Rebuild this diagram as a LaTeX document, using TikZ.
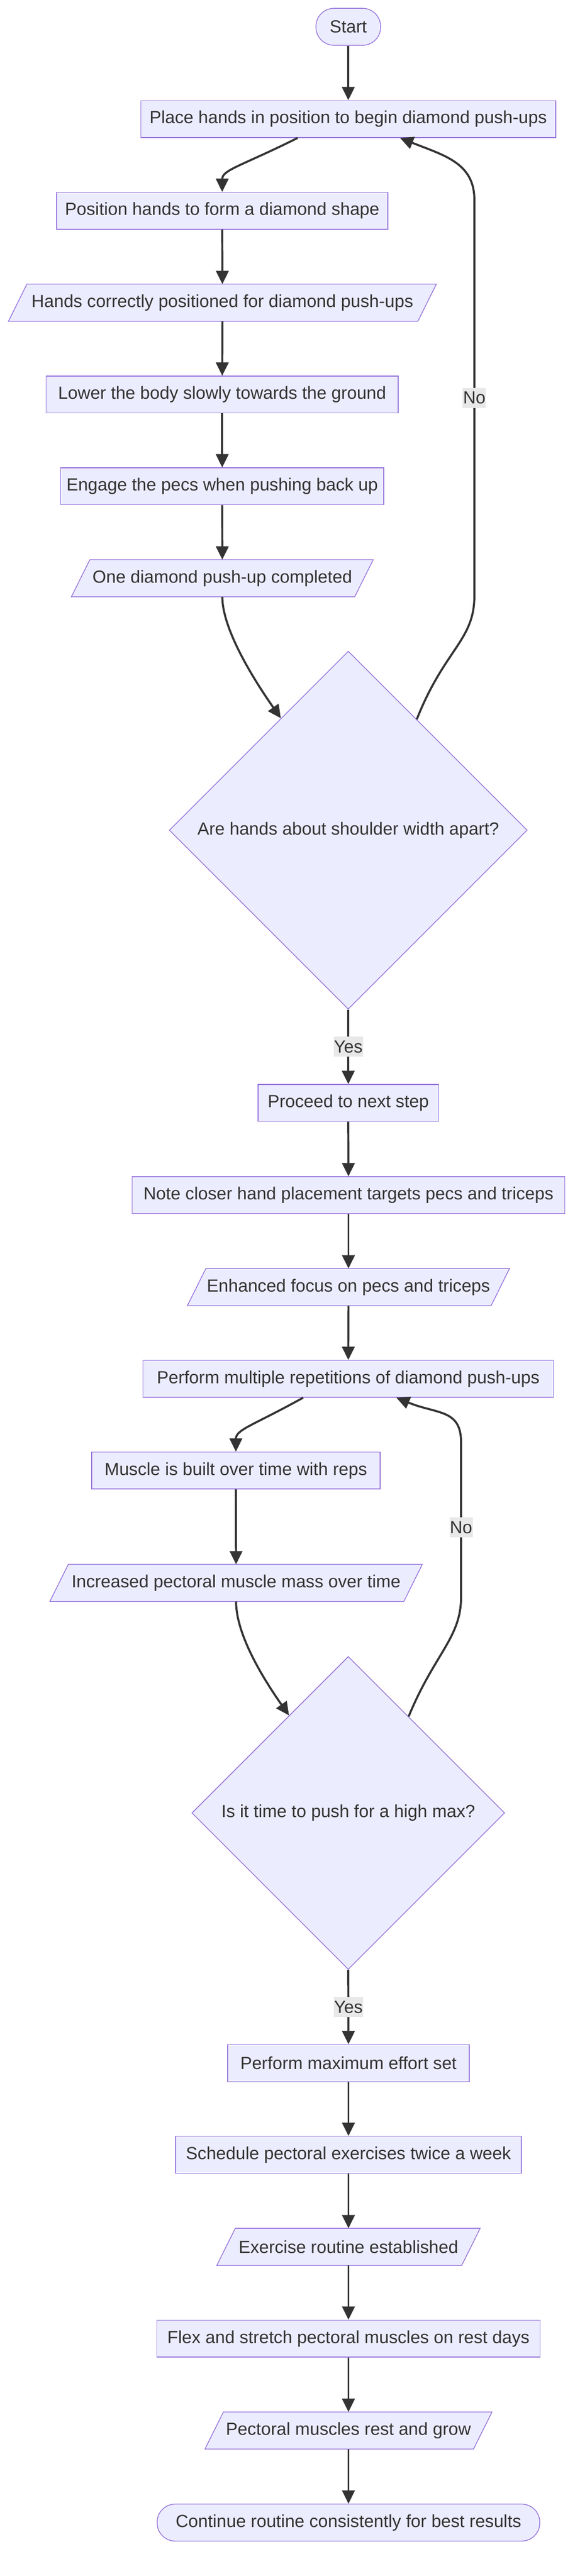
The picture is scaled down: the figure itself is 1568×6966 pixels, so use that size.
\documentclass[tikz,border=0pt]{standalone}
\usepackage{fontspec}
\setmainfont{Liberation Sans}
\usetikzlibrary{shapes.geometric,arrows.meta,calc,backgrounds}
\definecolor{nodefill}{HTML}{ECECFF}
\definecolor{nodeline}{HTML}{9370DB}
\definecolor{ink}{HTML}{333333}
\definecolor{lblbg}{HTML}{E8E8E8}
\tikzset{
  base/.style={font=\fontsize{47.5pt}{57pt}\selectfont, text=ink, inner sep=0pt, minimum height=100pt},
  stepbox/.style={base, rectangle, draw=nodeline, fill=nodefill, line width=2pt},
  termbox/.style={stepbox, rounded corners=49pt},
  iobox/.style={base, rectangle},
  iopoly/.style={draw=nodeline, fill=nodefill, line width=2pt},
  decision/.style={base, diamond, aspect=1, draw=nodeline, fill=nodefill, line width=2pt, minimum width=#1, minimum height=#1},
  flow/.style={draw=ink, line width=5.5pt, -{Triangle[length=36pt,width=34pt]}},
  lbl/.style={font=\fontsize{47.5pt}{57pt}\selectfont, text=ink, fill=lblbg, inner xsep=1pt, inner ysep=0pt, minimum height=54pt}
}
\begin{document}
\begin{tikzpicture}[x=1pt,y=-1pt]
\useasboundingbox (0,0) rectangle (1568,6966);
% nodes
\node[termbox, minimum width=175pt] (start) at (942,72.5) {Start};
\node[stepbox, minimum width=1122pt] (p1) at (942,322) {Place hands in position to begin diamond push-ups};
\node[stepbox, minimum width=896pt] (p2) at (601,570) {Position hands to form a diamond shape};
\node[iobox, minimum width=1107pt] (p3) at (601.5,818.5) {Hands correctly positioned for diamond push-ups};
\node[stepbox, minimum width=952pt] (p4) at (601,1067) {Lower the body slowly towards the ground};
\node[stepbox, minimum width=874pt] (p5) at (601,1315) {Engage the pecs when pushing back up};
\node[iobox, minimum width=766pt] (p6) at (601.3,1563.5) {One diamond push-up completed};
\node[decision=968pt] (d1) at (942,2245) {Are hands about shoulder width apart?};
\node[stepbox, minimum width=488pt] (p7) at (942,2982.5) {Proceed to next step};
\node[stepbox, minimum width=1171pt] (p8) at (942.5,3232) {Note closer hand placement targets pecs and triceps};
\node[iobox, minimum width=821pt] (p9) at (942.5,3480.5) {Enhanced focus on pecs and triceps};
\node[stepbox, minimum width=1110pt] (p10) at (942,3728.5) {Perform multiple repetitions of diamond push-ups};
\node[stepbox, minimum width=780pt] (p11) at (638,3976.5) {Muscle is built over time with reps};
\node[iobox, minimum width=957pt] (p12) at (638.5,4280.5) {Increased pectoral muscle mass over time};
\node[decision=846pt] (d2) at (942,4902.5) {Is it time to push for a high max?};
\node[stepbox, minimum width=653pt] (p13) at (942.5,5579) {Perform maximum effort set};
\node[stepbox, minimum width=935pt] (p14) at (942.5,5827) {Schedule pectoral exercises twice a week};
\node[iobox, minimum width=662pt] (p15) at (942.5,6076) {Exercise routine established};
\node[stepbox, minimum width=1037pt] (p16) at (942.5,6324) {Flex and stretch pectoral muscles on rest days};
\node[iobox, minimum width=726pt] (p17) at (942.5,6572.5) {Pectoral muscles rest and grow};
\node[termbox, minimum width=1035pt] (p18) at (942.5,6821.5) {Continue routine consistently for best results};
% parallelogram outlines
\begin{scope}[on background layer]
\foreach \n in {p3,p6,p9,p12,p15,p17}
  \draw[iopoly] ([xshift=25pt]\n.north west) -- ([xshift=25pt]\n.north east) -- ([xshift=-25pt]\n.south east) -- ([xshift=-25pt]\n.south west) -- cycle;
\end{scope}
% waypoints of the loops
\coordinate (n1b) at (1283,1612);
\coordinate (n1t) at (1283,540);
\coordinate (n2b) at (1247,4319);
\coordinate (n2t) at (1247,3900);
% edges
\draw[flow] (start.south) -- (p1.north);
\draw[flow] ([xshift=-137pt]p1.south) .. controls +(-150,75) and +(0,-60) .. (p2.north);
\draw[flow] (p2.south) -- (p3.north);
\draw[flow] (p3.south) -- (p4.north);
\draw[flow] (p4.south) -- (p5.north);
\draw[flow] (p5.south) -- (p6.north);
\draw[flow] (p6.south) .. controls +(0,90) and +(-70,-100) .. ($(d1.north)!0.376!(d1.west)$);
\draw[flow] ($(d1.north)!0.382!(d1.east)$) .. controls +(75,-190) and +(0,120) .. (n1b) -- node[lbl]{No} (n1t) .. controls +(0,-100) and +(118,47) .. ([xshift=140pt]p1.south);
\draw[flow] (d1.south) -- node[lbl]{Yes} (p7.north);
\draw[flow] (p7.south) -- (p8.north);
\draw[flow] (p8.south) -- (p9.north);
\draw[flow] (p9.south) -- (p10.north);
\draw[flow] ([xshift=-122pt]p10.south) .. controls +(-135,75) and +(0,-60) .. (p11.north);
\draw[flow] (p11.south) -- (p12.north);
\draw[flow] (p12.south) .. controls +(0,90) and +(-70,-100) .. ($(d2.north)!0.378!(d2.west)$);
\draw[flow] ($(d2.north)!0.385!(d2.east)$) .. controls +(70,-170) and +(0,110) .. (n2b) -- node[lbl,pos=0.45]{No} (n2t) .. controls +(0,-90) and +(110,45) .. ([xshift=130pt]p10.south);
\draw[flow] (d2.south) -- node[lbl]{Yes} (p13.north);
\draw[flow] (p13.south) -- (p14.north);
\draw[flow] (p14.south) -- (p15.north);
\draw[flow] (p15.south) -- (p16.north);
\draw[flow] (p16.south) -- (p17.north);
\draw[flow] (p17.south) -- (p18.north);
\end{tikzpicture}
\end{document}
